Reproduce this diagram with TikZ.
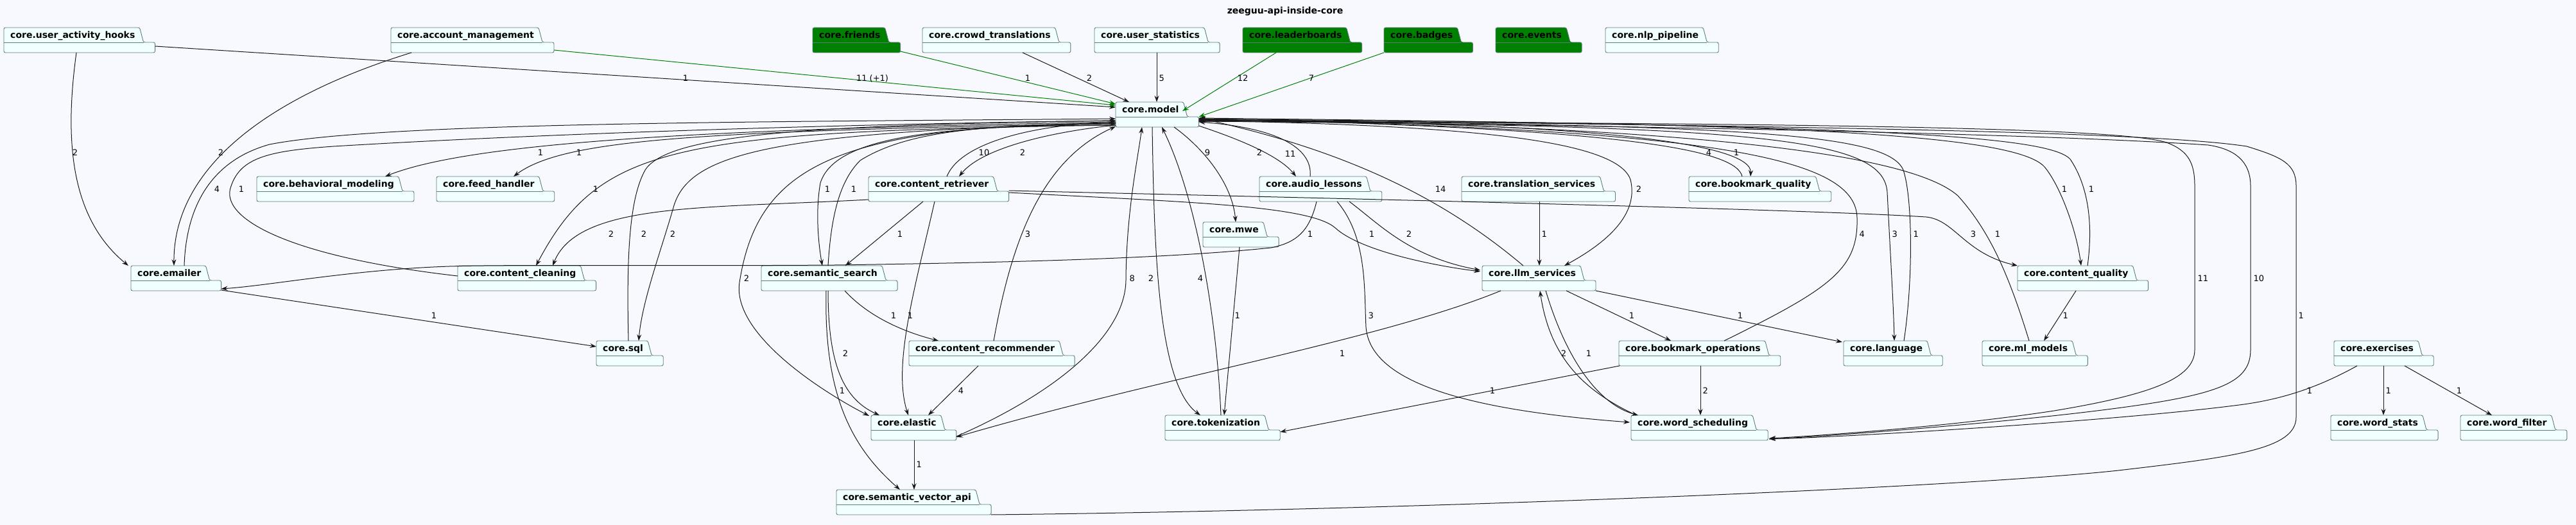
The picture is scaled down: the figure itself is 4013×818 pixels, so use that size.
\documentclass[tikz,border=0pt]{standalone}
\usepackage{fontspec}
\setmainfont{DejaVu Sans}
\usetikzlibrary{arrows.meta,calc}
\definecolor{bg}{HTML}{F8F8FF}
\definecolor{pkgfill}{HTML}{F1FFFF}
\definecolor{pkgborder}{HTML}{5E7C7C}
\definecolor{depgreen}{HTML}{008000}
\definecolor{edgec}{HTML}{181818}
\pgfdeclarelayer{bglayer}
\pgfdeclarelayer{pkglayer}
\pgfsetlayers{bglayer,pkglayer,main}
\newlength\pkgw
\newlength\pkgbw
\newcommand\pkgfont{\fontsize{14}{16}\selectfont\bfseries}
\newcommand\lblfont{\fontsize{13}{15}\selectfont}
\newcommand\pkg[5]{%
  \node[pkgtext] (#1-label) at (#2+10,#3+16.5) {#4};
  \pgfextractx{\pkgw}{\pgfpointanchor{#1-label}{east}}%
  \pgfmathsetmacro\tabr{\pkgw+7}%
  \pgfmathsetmacro\tabb{\tabr+6}%
  \pgfmathsetmacro\bodyr{\tabb+18}%
  \pgfmathsetlength\pkgbw{\bodyr-#2}%
  \begin{pgfonlayer}{pkglayer}
  \draw[pkgline, fill=#5] (#2,#3+23) -- (#2,#3) -- (\tabr,#3) -- (\tabb,#3+23) -- (\bodyr,#3+23) -- (\bodyr,#3+39) -- (#2,#3+39) -- cycle;
  \draw[pkgline, rounded corners=0pt] (#2,#3+23) -- (\tabb,#3+23);
  \end{pgfonlayer}
  \node[pkgbox, minimum width=\pkgbw] (#1) at (#2,#3) {};
}
\begin{document}
\begin{tikzpicture}[x=1pt,y=-1pt,
  pkgline/.style={draw=pkgborder, line width=0.9pt, rounded corners=2.5pt},
  pkgbox/.style={inner sep=0pt, outer sep=0pt, minimum height=39pt, anchor=north west},
  pkgtext/.style={font=\pkgfont, inner sep=0pt, anchor=base west, text=black},
  dep/.style={draw=edgec, line width=1pt, -{Stealth[length=10pt,width=7pt,inset=3.5pt]}},
  gdep/.style={dep, draw=depgreen},
  lbl/.style={font=\lblfont, inner sep=0pt, text=black},
  lblw/.style={lbl, anchor=west}]
\useasboundingbox (0,0) rectangle (4013,818);
\begin{pgfonlayer}{bglayer}
\fill[bg] (0,0) rectangle (4013,818);
\end{pgfonlayer}
\node[font=\pkgfont, inner sep=0pt] (title) at (2002,18) {zeeguu-api-inside-core};
% packages
\pkg{uah}{6}{43}{core.user\_activity\_hooks}{pkgfill}
\pkg{am}{609}{43}{core.account\_management}{pkgfill}
\pkg{friends}{1266}{43}{core.friends}{depgreen}
\pkg{crowd}{1437}{43}{core.crowd\_translations}{pkgfill}
\pkg{ustats}{1705}{43}{core.user\_statistics}{pkgfill}
\pkg{leader}{1936}{43}{core.leaderboards}{depgreen}
\pkg{badges}{2156}{43}{core.badges}{depgreen}
\pkg{events}{2330}{43}{core.events}{depgreen}
\pkg{nlp}{2501}{43}{core.nlp\_pipeline}{pkgfill}
\pkg{model}{1738}{159}{core.model}{pkgfill}
\pkg{bm}{400}{275}{core.behavioral\_modeling}{pkgfill}
\pkg{fh}{680}{275}{core.feed\_handler}{pkgfill}
\pkg{cretr}{1353}{275}{core.content\_retriever}{pkgfill}
\pkg{al}{1962}{275}{core.audio\_lessons}{pkgfill}
\pkg{ts}{2277}{275}{core.translation\_services}{pkgfill}
\pkg{bq}{2631}{275}{core.bookmark\_quality}{pkgfill}
\pkg{mwe}{1874}{346}{core.mwe}{pkgfill}
\pkg{emailer}{204}{414}{core.emailer}{pkgfill}
\pkg{cc}{713}{414}{core.content\_cleaning}{pkgfill}
\pkg{ss}{1186}{414}{core.semantic\_search}{pkgfill}
\pkg{llm}{2309}{414}{core.llm\_services}{pkgfill}
\pkg{cq}{3143}{414}{core.content\_quality}{pkgfill}
\pkg{sql}{929}{531}{core.sql}{pkgfill}
\pkg{crec}{1416}{531}{core.content\_recommender}{pkgfill}
\pkg{bo}{2522}{531}{core.bookmark\_operations}{pkgfill}
\pkg{lang}{2872}{531}{core.language}{pkgfill}
\pkg{ml}{3088}{531}{core.ml\_models}{pkgfill}
\pkg{ex}{3636}{531}{core.exercises}{pkgfill}
\pkg{elastic}{1357}{647}{core.elastic}{pkgfill}
\pkg{tok}{1815}{647}{core.tokenization}{pkgfill}
\pkg{ws}{2541}{647}{core.word\_scheduling}{pkgfill}
\pkg{wstats}{3631}{647}{core.word\_stats}{pkgfill}
\pkg{wfilter}{3833}{647}{core.word\_filter}{pkgfill}
\pkg{sva}{1303}{763}{core.semantic\_vector\_api}{pkgfill}
% top row into model
\draw[dep] ($(uah.south east)+(0,-10)$) -- ($(model.north west)+(0,8)$) node[lbl,at={(1068,122)}]{1};
\draw[gdep] ($(am.south east)+(0,-4)$) -- ($(model.north west)+(0,5)$) node[lbl,at={(1359,122)}]{11 (+1)};
\draw[gdep] ($(friends.south east)+(0,-2)$) -- ($(model.north west)+(0,3)$) node[lbl,at={(1601,122)}]{1};
\draw[dep] ($(crowd.south west)+(156,0)$) -- ($(model.north west)+(21,0)$) node[lbl,at={(1697,122)}]{2};
\draw[dep] ($(ustats.south west)+(97,0)$) -- ($(model.north west)+(64,0)$) node[lblw,at={(1805,122)}]{5};
\draw[gdep] ($(leader.south west)+(52,0)$) -- ($(model.north west)+(104,14)$) node[lbl,at={(1936,122)}]{12};
\draw[gdep] (badges.south west) -- ($(model.south east)+(0,-16)$) node[lbl,at={(2043,122)}]{7};
% left side
\draw[dep] ($(uah.south west)+(113,0)$) .. controls (100,220) and (110,340) .. ($(emailer.north west)+(-4,0)$) node[lbl,at={(117,238)}]{2};
\draw[dep] ($(am.south west)+(32,0)$) .. controls (420,150) and (270,260) .. ($(emailer.north west)+(67,0)$) node[lbl,at={(344,238)}]{2};
\draw[dep] ($(emailer.north west)+(83,0)$) .. controls (290,320) and (330,250) .. (420,225) .. controls (600,190) and (1200,190) .. ($(model.north west)+(0,26)$) node[lbl,at={(338,295)}]{4};
\draw[dep] ($(cc.north west)+(0,16)$) .. controls (450,400) and (340,340) .. (360,290) .. controls (375,245) and (420,235) .. (520,228) .. controls (900,205) and (1400,192) .. ($(model.north west)+(0,29)$) node[lbl,at={(376,295)}]{1};
\draw[dep] ($(model.north west)+(0,31)$) .. controls (1200,200) and (750,215) .. ($(bm.north west)+(200,0)$) node[lbl,at={(842,238)}]{1};
\draw[dep] ($(model.north west)+(0,33)$) .. controls (1100,205) and (880,215) .. ($(fh.north west)+(120,0)$) node[lbl,at={(902,238)}]{1};
\draw[dep] ($(model.north west)+(0,36)$) .. controls (1050,205) and (935,225) .. ($(cc.north west)+(122,0)$) node[lbl,at={(928,295)}]{1};
\draw[dep] ($(sql.north west)+(50,0)$) .. controls (976,400) and (980,310) .. (1005,265) .. controls (1040,210) and (1250,195) .. ($(model.north west)+(0,29)$) node[lbl,at={(1003,365)}]{2};
\draw[dep] ($(model.north west)+(0,33)$) .. controls (1200,205) and (1075,240) .. (1050,320) .. controls (1030,390) and (1000,470) .. ($(sql.north west)+(66,0)$) node[lbl,at={(1048,365)}]{2};
\draw[dep] ($(cretr.north west)+(122,0)$) .. controls (1495,225) and (1600,195) .. ($(model.north west)+(0,31)$) node[lbl,at={(1533,238)}]{10};
\draw[dep] ($(model.north west)+(0,36)$) .. controls (1640,205) and (1530,230) .. ($(cretr.north west)+(141,0)$) node[lbl,at={(1593,238)}]{2};
\draw[dep] ($(model.north west)+(0,36)$) .. controls (1450,195) and (1300,215) .. (1278,285) .. controls (1270,330) and (1275,380) .. ($(ss.north west)+(95,0)$) node[lbl,at={(1289,295)}]{1};
\draw[dep] ($(ss.north west)+(104,0)$) .. controls (1295,330) and (1310,280) .. (1340,250) .. controls (1420,200) and (1550,195) .. ($(model.north west)+(0,34)$) node[lbl,at={(1330,295)}]{1};
\draw[dep] ($(model.north west)+(0,33)$) .. controls (1300,195) and (1180,260) .. (1152,440) .. controls (1140,520) and (1280,610) .. ($(elastic.north west)+(-3,1)$) node[lbl,at={(1163,434)}]{2};
\draw[dep] ($(cretr.south west)+(0,-3)$) .. controls (1100,325) and (900,315) .. ($(cc.north west)+(148,0)$) node[lbl,at={(952,365)}]{2};
\draw[dep] ($(al.south west)+(89,0)$) .. controls (2040,360) and (2020,378) .. (1980,386) .. controls (1800,405) and (1500,410) .. (1300,413) .. controls (1000,415) and (800,412) .. (700,415) .. controls (550,420) and (420,445) .. ($(emailer.south east)+(0,-3)$) node[lbl,at={(2041,365)}]{1};
\draw[dep] ($(emailer.south east)+(0,-1)$) -- ($(sql.north west)+(0,9)$) node[lbl,at={(676,492)}]{1};
% content retriever / semantic search / elastic
\draw[dep] ($(cretr.south west)+(85,0)$) -- ($(ss.north west)+(131,0)$) node[lbl,at={(1402,365)}]{1};
\draw[dep] ($(cretr.south west)+(103,0)$) .. controls (1425,450) and (1390,570) .. ($(elastic.north west)+(58,0)$) node[lbl,at={(1418,492)}]{1};
\draw[dep] ($(cretr.south east)+(0,-14)$) .. controls (1850,315) and (2040,320) .. (2080,355) .. controls (2120,392) and (2240,415) .. ($(llm.north west)+(-3,9)$) node[lbl,at={(2137,365)}]{1};
\draw[dep] ($(cretr.south east)+(0,-17)$) .. controls (1900,305) and (2800,325) .. (3000,338) .. controls (3045,342) and (3060,395) .. (cq.north west) node[lbl,at={(3074,365)}]{3};
\draw[dep] ($(ss.south west)+(130,0)$) .. controls (1350,490) and (1400,515) .. ($(crec.north west)+(46,0)$) node[lbl,at={(1392,492)}]{1};
\draw[dep] ($(ss.south west)+(104,0)$) .. controls (1290,560) and (1310,620) .. ($(elastic.north west)+(13,0)$) node[lbl,at={(1317,551)}]{2};
\draw[dep] ($(ss.south west)+(101,0)$) .. controls (1283,620) and (1330,700) .. ($(sva.north west)+(99,0)$) node[lbl,at={(1312,609)}]{1};
\draw[dep] ($(crec.north west)+(132,0)$) .. controls (1575,380) and (1620,250) .. ($(model.north west)+(0,38)$) node[lbl,at={(1601,365)}]{3};
\draw[dep] ($(crec.south west)+(108,0)$) -- ($(elastic.north west)+(89,0)$) node[lbl,at={(1497,609)}]{4};
\draw[dep] ($(elastic.south west)+(67,0)$) -- ($(sva.north west)+(121,0)$) node[lblw,at={(1427,724)}]{1};
\draw[dep] ($(elastic.south east)+(0,-6)$) .. controls (1650,610) and (1755,520) .. (1754,434) .. controls (1755,330) and (1772,250) .. ($(model.south west)+(41,0)$) node[lblw,at={(1759,434)}]{8};
\draw[dep] ($(llm.south west)+(29,0)$) .. controls (2150,530) and (1800,590) .. ($(elastic.south east)+(0,-5)$) node[lbl,at={(2091,551)}]{1};
% model bottom
\draw[dep] ($(model.south west)+(57,0)$) .. controls (1798,400) and (1805,600) .. ($(tok.north west)+(55,0)$) node[lbl,at={(1793,434)}]{2};
\draw[dep] ($(tok.north west)+(87,0)$) .. controls (1895,480) and (1860,300) .. ($(model.south west)+(72,0)$) node[lbl,at={(1870,434)}]{4};
\draw[dep] ($(model.south west)+(91,0)$) .. controls (1880,235) and (1920,290) .. ($(mwe.north west)+(51,0)$) node[lbl,at={(1881,238)}]{9};
\draw[dep] ($(mwe.south west)+(57,0)$) -- ($(tok.north west)+(92,0)$) node[lblw,at={(1923,492)}]{1};
% audio lessons
\draw[dep] ($(model.south east)+(0,-2)$) .. controls (1940,220) and (1995,245) .. ($(al.north west)+(57,0)$) node[lbl,at={(1962,238)}]{2};
\draw[dep] ($(al.north west)+(79,0)$) .. controls (2045,235) and (2000,200) .. ($(model.south east)+(0,-8)$) node[lbl,at={(2010,240)}]{11};
\draw[dep] ($(al.south west)+(140,0)$) .. controls (2150,350) and (2195,400) .. ($(llm.north west)+(-3,7)$) node[lbl,at={(2195,365)}]{2};
\draw[dep] ($(al.south west)+(121,0)$) .. controls (2130,370) and (2125,450) .. (2128,510) .. controls (2135,600) and (2300,640) .. ($(ws.north west)+(-2,11)$) node[lblw,at={(2131,492)}]{3};
% llm services
\draw[dep] ($(llm.north west)+(64,0)$) .. controls (2250,310) and (2100,235) .. ($(model.south east)+(0,-14)$) node[lbl,at={(2244,295)}]{14};
\draw[dep] ($(model.south east)+(0,-10)$) .. controls (2300,195) and (2520,220) .. (2540,280) .. controls (2555,340) and (2490,385) .. ($(llm.north west)+(128,0)$) node[lbl,at={(2553,295)}]{2};
\draw[dep] ($(ts.south west)+(121,0)$) -- ($(llm.north west)+(89,0)$) node[lblw,at={(2401,365)}]{1};
\draw[dep] ($(llm.south west)+(131,0)$) -- ($(bo.north west)+(81,0)$) node[lbl,at={(2542,492)}]{1};
\draw[dep] (llm.south east) -- ($(lang.north west)+(-2,2)$) node[lbl,at={(2711,492)}]{1};
\draw[dep] ($(ws.north west)+(8,0)$) .. controls (2470,610) and (2415,560) .. ($(llm.south west)+(90,0)$) node[lbl,at={(2436,551)}]{2};
\draw[dep] ($(llm.south west)+(99,0)$) .. controls (2440,560) and (2490,630) .. ($(ws.north west)+(11,0)$) node[lbl,at={(2475,551)}]{1};
% bookmark operations
\draw[dep] ($(bo.north west)+(164,0)$) .. controls (2850,450) and (2895,420) .. (2893,340) .. controls (2892,250) and (2700,200) .. ($(model.south east)+(0,-12)$) node[lblw,at={(2896,365)}]{4};
\draw[dep] ($(bo.south west)+(1,0)$) -- ($(tok.south east)+(0,-13)$) node[lbl,at={(2325,609)}]{1};
\draw[dep] ($(bo.south west)+(127,0)$) -- ($(ws.north west)+(108,0)$) node[lblw,at={(2652,609)}]{2};
% language, bookmark quality
\draw[dep] ($(model.south east)+(0,-9)$) .. controls (2750,195) and (2935,215) .. (2940,300) .. controls (2945,400) and (2950,480) .. ($(lang.north west)+(79,0)$) node[lblw,at={(2947,365)}]{3};
\draw[dep] ($(lang.north west)+(94,0)$) .. controls (2980,440) and (2980,310) .. (2965,265) .. controls (2940,205) and (2700,195) .. ($(model.south east)+(0,-11)$) node[lblw,at={(2980,365)}]{1};
\draw[dep] ($(model.south east)+(0,-11)$) .. controls (2500,190) and (2730,225) .. ($(bq.north west)+(96,0)$) node[lbl,at={(2705,238)}]{1};
\draw[dep] ($(bq.north west)+(83,0)$) .. controls (2705,235) and (2550,200) .. ($(model.south east)+(0,-13)$) node[lbl,at={(2662,238)}]{4};
% content quality, ml models
\draw[dep] ($(model.south east)+(0,-12)$) .. controls (2800,190) and (3140,210) .. (3185,260) .. controls (3210,290) and (3235,360) .. ($(cq.north west)+(99,0)$) node[lbl,at={(3216,295)}]{1};
\draw[dep] ($(cq.north west)+(109,0)$) .. controls (3262,340) and (3250,285) .. (3225,248) .. controls (3190,210) and (2900,195) .. ($(model.south east)+(0,-14)$) node[lbl,at={(3258,295)}]{1};
\draw[dep] ($(cq.south west)+(91,0)$) -- ($(ml.north west)+(96,0)$) node[lblw,at={(3213,492)}]{1};
\draw[dep] ($(ml.north west)+(73,0)$) .. controls (3130,430) and (3100,360) .. (3050,305) .. controls (2960,225) and (2500,195) .. ($(model.south east)+(0,-13)$) node[lbl,at={(3112,365)}]{1};
% long loops on the right
\draw[dep] ($(model.south east)+(0,-9)$) .. controls (2800,192) and (3300,198) .. (3375,222) .. controls (3410,235) and (3419,255) .. (3419,290) -- (3419,545) .. controls (3419,590) and (3350,615) .. (3200,640) .. controls (3050,663) and (2850,678) .. ($(ws.south east)+(2,-3)$) node[lblw,at={(3423,434)}]{11};
\draw[dep] ($(ws.south east)+(2,-2)$) .. controls (2850,680) and (3100,660) .. (3250,642) .. controls (3450,618) and (3506,600) .. (3506,545) -- (3506,290) .. controls (3506,250) and (3480,232) .. (3440,226) .. controls (3200,210) and (2700,198) .. ($(model.south east)+(0,-10)$) node[lblw,at={(3510,434)}]{10};
\draw[dep] (sva.south east) .. controls (2200,795) and (3050,760) .. (3300,733) .. controls (3480,712) and (3577,700) .. (3577,650) -- (3577,290) .. controls (3577,255) and (3555,245) .. (3500,228) .. controls (3350,205) and (2800,196) .. ($(model.south east)+(0,-12)$) node[lblw,at={(3580,492)}]{1};
% exercises
\draw[dep] ($(ex.south west)+(36,0)$) .. controls (3600,610) and (3540,625) .. (3480,632) .. controls (3300,655) and (2900,680) .. ($(ws.south east)+(2,-2)$) node[lbl,at={(3598,609)}]{1};
\draw[dep] ($(ex.south west)+(77,0)$) -- ($(wstats.north west)+(82,0)$) node[lblw,at={(3716,609)}]{1};
\draw[dep] ($(ex.south west)+(110,0)$) -- ($(wfilter.north west)+(49,0)$) node[lbl,at={(3831,609)}]{1};
\end{tikzpicture}
\end{document}
